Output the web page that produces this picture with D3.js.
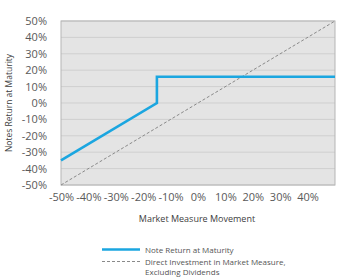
<!DOCTYPE html>
<html><head><meta charset="utf-8">
<script src="https://cdn.jsdelivr.net/npm/d3@7"></script>
<style>body{margin:0;background:#fff;}svg{display:block;font-family:"Open Sans",Arial,sans-serif;}</style>
</head><body>
<svg id="c" width="359" height="278"></svg>
<script>
const yTicks = [-50,-40,-30,-20,-10,0,10,20,30,40,50];
const xTicks = [-50,-40,-30,-20,-10,0,10,20,30,40];
const noteX = [-50,-15,-15,50];
const noteY = [-35,0,16,16];
const directX = [-50,50];
const directY = [-50,50];

const svg = d3.select("#c");
const m = {l:61, r:335, t:21, b:185};
const x = d3.scaleLinear().domain([-50,50]).range([m.l,m.r]);
const y = d3.scaleLinear().domain([-50,50]).range([m.b,m.t]);

svg.append("rect").attr("x",m.l).attr("y",m.t).attr("width",m.r-m.l).attr("height",m.b-m.t)
  .attr("fill","#e4e4e4");
svg.append("g").selectAll("line").data(yTicks).join("line")
  .attr("x1",m.l).attr("x2",m.r).attr("y1",d=>y(d)).attr("y2",d=>y(d))
  .attr("stroke","#cfcfcf").attr("stroke-width",1);
svg.append("rect").attr("x",m.l).attr("y",m.t).attr("width",m.r-m.l).attr("height",m.b-m.t)
  .attr("fill","none").attr("stroke","#b5b5b5");

const yAxis = svg.append("g").attr("transform",`translate(${m.l-11},0)`)
  .call(d3.axisLeft(y).tickValues(yTicks).tickFormat(d=>d+"%").tickSize(0));
yAxis.select(".domain").remove();
yAxis.selectAll("text").attr("font-size",11).attr("fill","#595959").attr("font-family","Open Sans, Arial, sans-serif");

const xAxis = svg.append("g").attr("transform",`translate(0,${m.b+5})`)
  .call(d3.axisBottom(x).tickValues(xTicks).tickFormat(d=>d+"%").tickSize(0));
xAxis.select(".domain").remove();
xAxis.selectAll("text").attr("font-size",11).attr("fill","#595959").attr("font-family","Open Sans, Arial, sans-serif");

const line = d3.line().x(d=>x(d[0])).y(d=>y(d[1]));
svg.append("path").datum(d3.zip(directX,directY)).attr("d",line)
  .attr("fill","none").attr("stroke","#8a8a8a").attr("stroke-width",1).attr("stroke-dasharray","3,2");
svg.append("path").datum(d3.zip(noteX,noteY)).attr("d",line)
  .attr("fill","none").attr("stroke","#1ba6e0").attr("stroke-width",2.6);

svg.append("text").attr("transform","translate(12,103) rotate(-90)").attr("text-anchor","middle")
  .attr("font-size",8.5).attr("fill","#404040").text("Notes Return at Maturity");
svg.append("text").attr("x",197).attr("y",222).attr("text-anchor","middle")
  .attr("font-size",9).attr("fill","#404040").text("Market Measure Movement");

svg.append("line").attr("x1",102).attr("x2",140).attr("y1",249.5).attr("y2",249.5)
  .attr("stroke","#1ba6e0").attr("stroke-width",2.6);
svg.append("text").attr("x",145).attr("y",252.5).attr("font-size",8).attr("fill","#555")
  .text("Note Return at Maturity");
svg.append("line").attr("x1",102).attr("x2",140).attr("y1",261.5).attr("y2",261.5)
  .attr("stroke","#8a8a8a").attr("stroke-width",1).attr("stroke-dasharray","3,2");
svg.append("text").attr("x",145).attr("y",264.5).attr("font-size",8).attr("fill","#555")
  .text("Direct Investment in Market Measure,");
svg.append("text").attr("x",145).attr("y",274.5).attr("font-size",8).attr("fill","#555")
  .text("Excluding Dividends");
</script>
</body></html>
